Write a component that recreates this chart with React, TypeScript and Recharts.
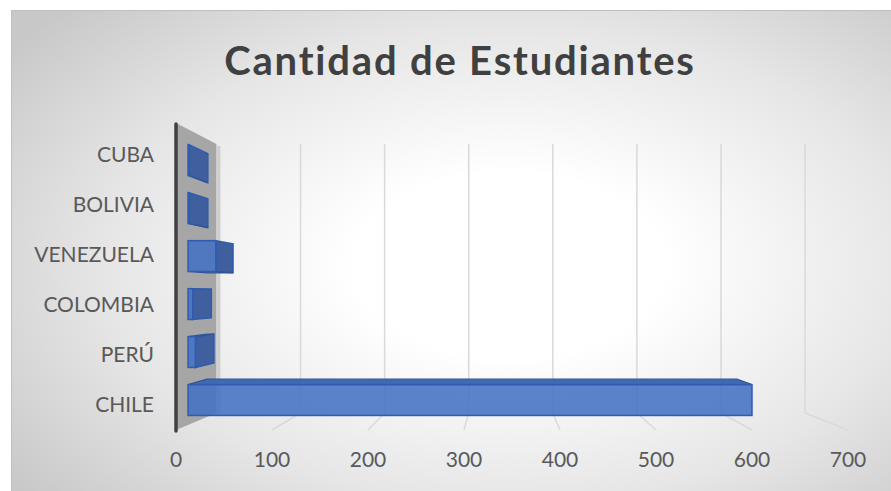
import React from 'react'
import { BarChart, Bar, XAxis, YAxis, CartesianGrid } from 'recharts'

const paises = ['CUBA', 'BOLIVIA', 'VENEZUELA', 'COLOMBIA', 'PERÚ', 'CHILE']
const estudiantes = [1, 1, 30, 5, 8, 610]
const xTicks = [0, 100, 200, 300, 400, 500, 600, 700]

const data = paises.map((pais, i) => ({ pais, valor: estudiantes[i] }))

// fake 3d: vanishing point + depth scale of each plane (front plane = axes)
const VX = 502, VY = 293
const WALL_BACK = 0.876
const BAR_FRONT = 0.963
const BAR_BACK = 0.905
const proj = (x: number, y: number, s: number) => [VX + (x - VX) * s, VY + (y - VY) * s]
const pts = (a: number[][]) => a.map(p => p.join(',')).join(' ')

const FONT = 'Lato, "Open Sans", sans-serif'

function Box3D(props: any) {
  const { x, y, width, height } = props
  const [fl, ft] = proj(x, y, BAR_FRONT)
  const [fr, fb] = proj(x + width, y + height, BAR_FRONT)
  const [bl, bt] = proj(x, y, BAR_BACK)
  const [br, bb] = proj(x + width, y + height, BAR_BACK)
  return (
    <g>
      {fr < VX && <polygon points={pts([[fr, ft], [br, bt], [br, bb], [fr, fb]])} fill="#3f5f9e" stroke="#2f5cb0" strokeWidth={1.5} />}
      {ft > VY && <polygon points={pts([[fl, ft], [fr, ft], [br, bt], [bl, bt]])} fill="#4069b3" stroke="#2f5597" strokeWidth={1.2} />}
      {fb < VY && <polygon points={pts([[fl, fb], [fr, fb], [br, bb], [bl, bb]])} fill="#3d64ad" stroke="#2f5597" strokeWidth={1.2} />}
      <rect x={fl} y={ft} width={Math.max(fr - fl, 0.5)} height={fb - ft} fill="#4472c4" fillOpacity={0.88} stroke="#2f5cb0" strokeWidth={1.5} />
    </g>
  )
}

function GridLine(props: any) {
  const { x1, y1, y2, index } = props
  const [bx, bt] = proj(x1, y1, WALL_BACK)
  const [, bb] = proj(x1, y2, WALL_BACK)
  if (index === 0) {
    return (
      <g>
        <polygon points={pts([[x1, y1], [bx, bt], [bx, bb], [x1, y2]])} fill="#a6a6a6" />
        <line x1={bx + 2} y1={bt + 2} x2={bx + 2} y2={bb} stroke="#cfcfcf" strokeWidth={4} />
        <line x1={x1} y1={y1 + 1} x2={x1} y2={y2 + 1} stroke="#404040" strokeWidth={3.5} strokeLinecap="round" />
      </g>
    )
  }
  return (
    <g>
      <line x1={bx} y1={bt} x2={bx} y2={bb} stroke="#d9d9d9" strokeWidth={1.5} />
      <line x1={bx} y1={bb} x2={x1} y2={y2} stroke="#d9d9d9" strokeWidth={1.5} />
    </g>
  )
}

export default function App() {
  return (
    <div style={{ position: 'absolute', left: 0, top: 0, width: 891, height: 491, overflow: 'hidden', background: '#fff' }}>
      <div style={{
        position: 'absolute', left: 11, top: 10, width: 890, height: 490, boxSizing: 'border-box',
        border: '1px solid #bfbfbf',
        background: 'radial-gradient(ellipse 70% 75% at 56% 52%, #ffffff 0%, #ffffff 25%, #e6e6e6 65%, #c8c8c8 100%)'
      }} />
      <div style={{
        position: 'absolute', left: 11, top: 36, width: 898, textAlign: 'center',
        fontFamily: FONT, fontWeight: 700, fontSize: 40, letterSpacing: 1.8, color: '#404040', lineHeight: '48px'
      }}>Cantidad de Estudiantes</div>
      <div style={{ position: 'absolute', left: 0, top: 0 }}>
        <BarChart width={891} height={491} layout="vertical" data={data}
          margin={{ top: 123, right: 43, bottom: 21, left: 16 }}>
          <CartesianGrid horizontal={false} vertical={GridLine} />
          <XAxis type="number" dataKey="valor" domain={[0, 700]} ticks={xTicks} interval={0}
            axisLine={false} tickLine={false} tickSize={0} tickMargin={22} height={40}
            tick={{ fill: '#595959', fontSize: 21, fontFamily: FONT }} />
          <YAxis type="category" dataKey="pais" width={160} interval={0}
            axisLine={false} tickLine={false} tickSize={0} tickMargin={22}
            padding={{ top: 7, bottom: 1 }}
            tick={{ fill: '#595959', fontSize: 21, fontFamily: FONT }} />
          <Bar dataKey="valor" barSize={32} shape={<Box3D />} isAnimationActive={false} />
        </BarChart>
      </div>
    </div>
  )
}
